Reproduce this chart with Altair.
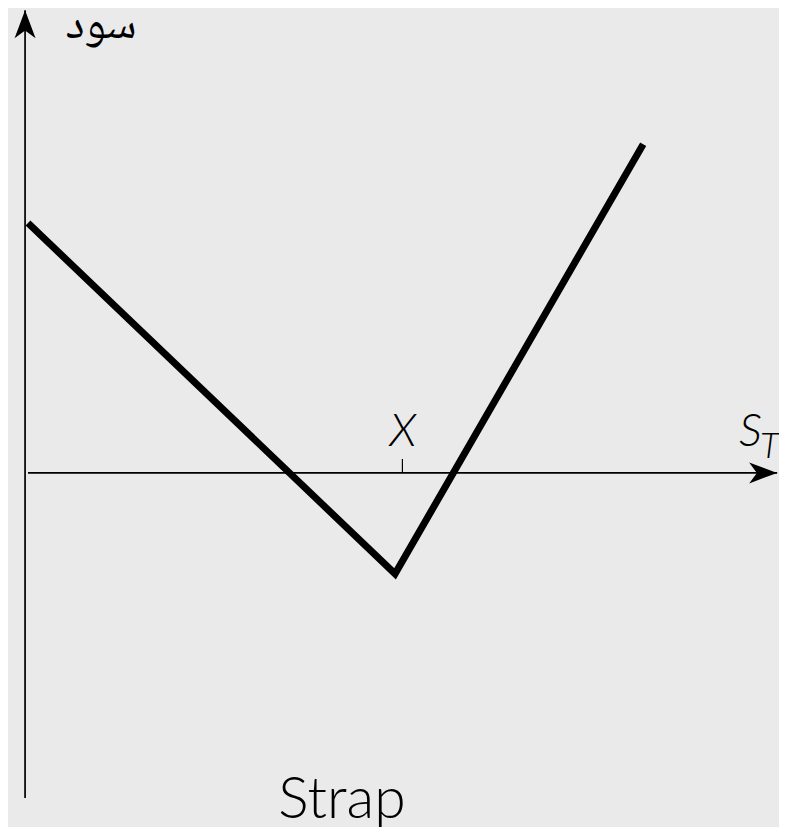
import altair as alt
import pandas as pd

# Strap payoff (strike X = 100 units)
price = [0, 100, 167.6]
profit = [68.1, -27.5, 89.6]

# axis extents (data units)
h_axis_x = [0, 204.1]
v_axis_y = [-88.6, 126.1]
v_axis_x = -0.8
strike = 102
tick_top = 3.8

XDOM = [-5.45, 204.6]
YDOM = [-96.5, 126.7]

def xs(f):
    return alt.X(f, type="quantitative", scale=alt.Scale(domain=XDOM, nice=False, zero=False), axis=None)

def ys(f):
    return alt.Y(f, type="quantitative", scale=alt.Scale(domain=YDOM, nice=False, zero=False), axis=None)

payoff = pd.DataFrame({"s": price, "p": profit})

line = alt.Chart(payoff).mark_line(color="black", strokeWidth=7, strokeCap="butt", strokeJoin="miter").encode(
    x=xs("s"), y=ys("p"), order="s:Q"
)

haxis = alt.Chart(pd.DataFrame({"x": [h_axis_x[0]], "x2": [h_axis_x[1]], "y": [0]})).mark_rule(
    color="black", strokeWidth=1.7
).encode(x=xs("x"), x2="x2", y=ys("y"))

vaxis = alt.Chart(pd.DataFrame({"x": [v_axis_x], "y": [v_axis_y[0]], "y2": [v_axis_y[1]]})).mark_rule(
    color="black", strokeWidth=1.7
).encode(x=xs("x"), y=ys("y"), y2="y2")

tick = alt.Chart(pd.DataFrame({"x": [strike], "y": [0], "y2": [tick_top]})).mark_rule(
    color="black", strokeWidth=1.2
).encode(x=xs("x"), y=ys("y"), y2="y2")

up_arrow = "M0,0 L0.75,2 L0,1.45 L-0.75,2 Z"
right_arrow = "M0,0 L-2,-0.75 L-1.45,0 L-2,0.75 Z"

arr_up = alt.Chart(pd.DataFrame({"x": [v_axis_x], "y": [v_axis_y[1]]})).mark_point(
    shape=up_arrow, filled=True, size=784, color="black", opacity=1, strokeWidth=0
).encode(x=xs("x"), y=ys("y"))

arr_right = alt.Chart(pd.DataFrame({"x": [h_axis_x[1]], "y": [0]})).mark_point(
    shape=right_arrow, filled=True, size=784, color="black", opacity=1, strokeWidth=0
).encode(x=xs("x"), y=ys("y"))

def label(text, x, y, size, font="Lato", style="normal", align="center", weight=300):
    return alt.Chart(pd.DataFrame({"t": [text]})).mark_text(
        font=font, fontSize=size, fontStyle=style, fontWeight=weight, align=align,
        baseline="alphabetic", color="black"
    ).encode(text="t:N", x=alt.value(x), y=alt.value(y))

t_profit = label("سود", 93, 30, 46, font="Noto Naskh Arabic, Noto Sans Arabic, DejaVu Sans", weight="normal")
t_X = label("X", 395, 438, 46, style="italic")
t_S = label("S", 731, 438, 46, style="italic", align="left")
t_T = label("T", 752, 450, 36, style="italic", align="left")
t_title = label("Strap", 334, 810, 57)

chart = alt.layer(
    haxis, vaxis, tick, arr_up, arr_right, line, t_profit, t_X, t_S, t_T, t_title
).properties(
    width=771, height=819, padding=0, autosize=alt.AutoSizeParams(type="none"), background="#eaeaea"
).configure_view(stroke=None)

chart.save("out.html", embed_options={"renderer": "svg", "actions": False})
